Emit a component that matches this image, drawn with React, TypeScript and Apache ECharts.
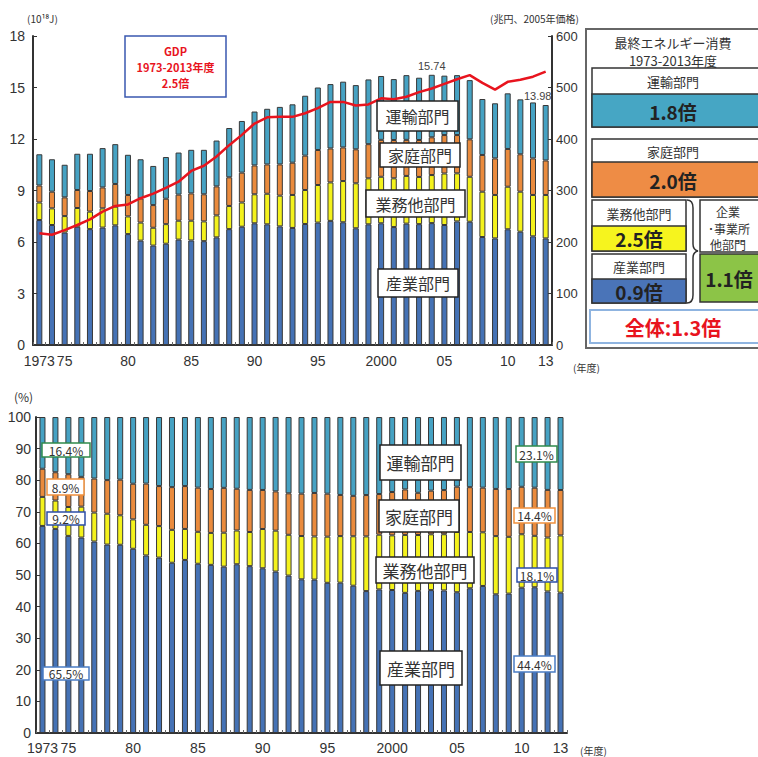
import React, { useEffect, useRef } from 'react';
import * as echarts from 'echarts';

const years = ['1973','1974','1975','1976','1977','1978','1979','1980','1981','1982','1983','1984','1985','1986','1987','1988','1989','1990','1991','1992','1993','1994','1995','1996','1997','1998','1999','2000','2001','2002','2003','2004','2005','2006','2007','2008','2009','2010','2011','2012','2013'];

// 10^18 J
const industry = [7.28,6.99,6.55,6.89,6.75,6.84,6.97,6.46,6.08,5.79,5.90,6.14,6.09,6.05,6.27,6.75,6.89,7.09,7.03,6.91,6.82,7.05,7.13,7.23,7.15,6.80,7.03,7.09,6.87,7.07,7.04,7.10,6.99,7.20,7.18,6.29,6.21,6.74,6.60,6.33,6.21];
const business = [1.02,0.97,0.96,1.09,1.02,1.12,1.09,1.03,1.05,1.04,1.14,1.10,1.15,1.15,1.28,1.35,1.41,1.69,1.78,1.79,1.92,1.98,2.19,2.24,2.40,2.62,2.68,2.71,2.84,2.78,2.75,2.80,3.00,2.80,2.62,2.64,2.53,2.48,2.33,2.41,2.53];
const household = [0.99,0.97,1.09,1.05,1.20,1.22,1.32,1.25,1.41,1.32,1.48,1.52,1.59,1.58,1.69,1.67,1.74,1.68,1.71,1.82,1.88,2.00,2.04,1.98,1.96,1.98,1.99,2.15,2.23,2.10,2.15,2.20,2.24,2.23,2.18,2.14,2.13,2.20,2.18,2.13,2.01];
const transport = [1.82,1.89,1.90,2.11,2.17,2.29,2.32,2.34,2.28,2.28,2.43,2.45,2.54,2.59,2.67,2.87,3.01,3.14,3.24,3.35,3.40,3.49,3.64,3.75,3.83,3.74,3.77,3.72,3.55,3.77,3.63,3.64,3.46,3.49,3.45,3.26,3.21,3.24,3.20,3.26,3.23];
// 兆円 (2005年価格)
const gdp = [217,214,223,233,244,259,270,273,285,294,305,317,338,348,366,388,408,430,442,443,443,450,460,472,472,465,467,479,477,482,491,498,507,516,524,509,496,511,515,521,531];

const xLabelYears = ['1973','1975','1980','1985','1990','1995','2000','2005','2010','2013'];
const fullYearLabels = ['1973','2000'];
const totalLabelYears = ['2004','2013'];

const sectorNames = ['産業部門','業務他部門','家庭部門','運輸部門'];
const sectorColors = ['#4572b5','#f4f21c','#ea8b3d','#46a2c3'];

const FONT = '"Noto Sans CJK JP", "Noto Sans", sans-serif';
const NUMFONT = '"Liberation Sans", Arial, sans-serif';

const rect = (x: number, y: number, w: number, h: number, stroke: string, lw: number, fill = '#ffffff') => ({
  type: 'rect', z: 100, shape: { x, y, width: w, height: h }, style: { fill, stroke, lineWidth: lw }
});
const txt = (x: number, y: number, t: string, size: number, color = '#333333', weight = 'normal', align = 'center') => ({
  type: 'text', z: 101, x, y,
  style: { text: t, fontSize: size, fontWeight: weight, fontFamily: FONT, fill: color, align, verticalAlign: 'middle', textAlign: align, textVerticalAlign: 'middle' }
});

export default function App() {
  const ref = useRef<HTMLDivElement>(null);
  useEffect(() => {
    document.body.style.margin = '0';
    if (!ref.current) return;
    try {
      echarts.graphic.registerShape('brace', echarts.graphic.extendPath('M0,0 Q6,0 6,8 L6,44 Q6,50 11,51 Q6,52 6,58 L6,95 Q6,103 0,103', {}));
    } catch (e) {}
    const chart = echarts.init(ref.current, undefined, { renderer: 'svg' });

    const totals = years.map((_, i) => industry[i] + business[i] + household[i] + transport[i]);
    const raw = [industry, business, household, transport];
    const pct = raw.map(arr => arr.map((v, i) => +(v / totals[i] * 100).toFixed(2)));

    const xLabelFmt = (v: string) => fullYearLabels.includes(v) ? v : v.slice(2);
    const xAxisBase = (gridIndex: number, size: number, margin: number) => ({
      type: 'category', gridIndex, data: years, boundaryGap: true,
      axisLine: { lineStyle: { color: '#333', width: 2 } },
      axisTick: { show: true, inside: true, length: 3, interval: 0, lineStyle: { color: '#666' } },
      axisLabel: {
        interval: (idx: number, v: string) => xLabelYears.includes(v),
        formatter: xLabelFmt, color: '#333', fontSize: size, lineHeight: size, fontFamily: NUMFONT, margin
      }
    });

    const topBars = raw.map((arr, s) => ({
      name: sectorNames[s], type: 'bar', stack: 'top', xAxisIndex: 0, yAxisIndex: 0,
      barWidth: 6,
      itemStyle: { color: sectorColors[s], borderColor: '#383838', borderWidth: 1 },
      data: s === 3 ? arr.map((v, i) => totalLabelYears.includes(years[i]) ? {
        value: v,
        label: {
          show: true, position: 'top', distance: years[i] === '2013' ? 1 : 3,
          offset: years[i] === '2013' ? [-8, -3] : [0, 0],
          formatter: () => totals[i].toFixed(2), color: '#444', fontSize: 11, fontFamily: NUMFONT
        }
      } : v) : arr
    }));

    const bottomBars = pct.map((arr, s) => ({
      name: sectorNames[s] + '%', type: 'bar', stack: 'bottom', xAxisIndex: 1, yAxisIndex: 2,
      barWidth: 6,
      itemStyle: { color: sectorColors[s], borderColor: '#383838', borderWidth: 1 },
      data: arr
    }));

    const graphic: any[] = [
      // units
      txt(27, 18, '(10¹⁸J)', 10, '#333', 'normal', 'left'),
      txt(490, 18, '(兆円、2005年価格)', 10, '#333', 'normal', 'left'),
      txt(573, 367, '(年度)', 10, '#333', 'normal', 'left'),
      txt(14, 396, '(%)', 12, '#333', 'normal', 'left'),
      txt(580, 750, '(年度)', 10, '#333', 'normal', 'left'),
      // GDP box
      rect(125, 36, 101, 61, '#3a58b0', 1.5),
      txt(175.5, 51, 'GDP', 11, '#e8141e', 'bold'),
      txt(175.5, 67, '1973-2013年度', 11, '#e8141e', 'bold'),
      txt(175.5, 83, '2.5倍', 11, '#e8141e', 'bold'),
      // top sector labels
      rect(377, 101, 81, 30, '#222', 1.5), txt(417.5, 116, '運輸部門', 16),
      rect(380, 143, 80, 24, '#222', 1.5), txt(420, 155, '家庭部門', 16),
      rect(366, 190, 99, 27, '#222', 1.5), txt(415.5, 203.5, '業務他部門', 16),
      rect(378, 269, 80, 28, '#222', 1.5), txt(418, 283, '産業部門', 16),
      // right panel
      rect(586, 29, 200, 319, '#666', 2),
      txt(673, 42, '最終エネルギー消費', 13),
      txt(673, 60, '1973-2013年度', 13),
      rect(592, 68, 190, 59, '#333', 1.5),
      rect(592, 94, 190, 33, '#333', 1.5, '#46a6c4'),
      txt(673, 81, '運輸部門', 13), txt(673, 111, '1.8倍', 19, '#222', 'bold'),
      rect(592, 139, 190, 58, '#333', 1.5),
      rect(592, 162, 190, 35, '#333', 1.5, '#ee8c45'),
      txt(673, 151, '家庭部門', 13), txt(673, 180, '2.0倍', 19, '#222', 'bold'),
      rect(592, 200, 94, 51, '#333', 1.5),
      rect(592, 226, 94, 25, '#333', 1.5, '#f6f41e'),
      txt(639, 213, '業務他部門', 13), txt(639, 238, '2.5倍', 19, '#222', 'bold'),
      rect(592, 254, 94, 49, '#333', 1.5),
      rect(592, 279, 94, 24, '#333', 1.5, '#4a74b8'),
      txt(639, 266, '産業部門', 13), txt(639, 291, '0.9倍', 19, '#222', 'bold'),
      { type: 'brace', z: 101, x: 687, y: 200, shape: {}, style: { fill: 'none', stroke: '#333', lineWidth: 1.5 } },
      rect(700, 200, 80, 52, '#333', 1.5),
      txt(728, 211, '企業', 12), txt(729, 228, '･事業所', 12), txt(728, 244, '他部門', 12),
      rect(700, 254, 80, 48, '#333', 1.5, '#8cc447'),
      txt(729, 278, '1.1倍', 19, '#222', 'bold'),
      rect(590, 310, 190, 33, '#8fb4e0', 2),
      txt(673, 327, '全体:1.3倍', 20, '#e8141e', 'bold'),
      // bottom sector labels
      rect(380, 445, 81, 35, '#222', 1.5), txt(420.5, 462.5, '運輸部門', 17),
      rect(379, 500, 80, 32, '#222', 1.5), txt(419, 516, '家庭部門', 17),
      rect(376, 557, 98, 26, '#222', 1.5), txt(425, 570, '業務他部門', 17),
      rect(380, 651, 82, 34, '#222', 1.5), txt(421, 668, '産業部門', 17),
      // bottom percentages
      rect(42, 443, 48, 14, '#2f8a4c', 1.5), txt(66, 450.5, '16.4%', 12),
      rect(47, 479, 37, 16, '#f0903c', 1.5), txt(65.5, 487.5, '8.9%', 12),
      rect(47, 512, 38, 13, '#2d4fa8', 1.5), txt(66, 518.5, '9.2%', 12),
      rect(43, 667, 46, 13, '#4a7cc4', 1.5), txt(66, 673.5, '65.5%', 12),
      rect(516, 446, 41, 16, '#2f8a4c', 1.5), txt(536.5, 454, '23.1%', 12),
      rect(514, 508, 41, 15, '#f0903c', 1.5), txt(534.5, 515.5, '14.4%', 12),
      rect(517, 568, 40, 14, '#2d4fa8', 1.5), txt(537, 575, '18.1%', 12),
      rect(514, 656, 41, 16, '#4a7cc4', 1.5), txt(534.5, 664, '44.4%', 12)
    ];

    chart.setOption({
      animation: false,
      backgroundColor: '#ffffff',
      textStyle: { fontFamily: FONT },
      grid: [
        { left: 33, top: 36, width: 519, height: 309, containLabel: false },
        { left: 36, top: 417, width: 531, height: 316, containLabel: false }
      ],
      xAxis: [xAxisBase(0, 14, 9), xAxisBase(1, 14, 8)],
      yAxis: [
        {
          type: 'value', gridIndex: 0, min: 0, max: 18, interval: 3,
          axisLine: { show: true, lineStyle: { color: '#333', width: 2 } },
          axisTick: { show: true, inside: true, length: 4, lineStyle: { color: '#333' } },
          splitLine: { show: false },
          axisLabel: { color: '#333', fontSize: 14, lineHeight: 14, fontFamily: NUMFONT, margin: 8 }
        },
        {
          type: 'value', gridIndex: 0, min: 0, max: 600, interval: 100, position: 'right',
          axisLine: { show: true, lineStyle: { color: '#333', width: 2 } },
          axisTick: { show: true, inside: true, length: 4, lineStyle: { color: '#333' } },
          splitLine: { show: false },
          axisLabel: { color: '#333', fontSize: 13, lineHeight: 13, fontFamily: NUMFONT, margin: 4 }
        },
        {
          type: 'value', gridIndex: 1, min: 0, max: 100, interval: 10,
          axisLine: { show: true, lineStyle: { color: '#333', width: 2 } },
          axisTick: { show: true, inside: true, length: 4, lineStyle: { color: '#333' } },
          splitLine: { show: false },
          axisLabel: { color: '#333', fontSize: 14, lineHeight: 14, fontFamily: NUMFONT, margin: 5 }
        }
      ],
      series: [
        ...topBars,
        {
          name: 'GDP', type: 'line', xAxisIndex: 0, yAxisIndex: 1, data: gdp,
          showSymbol: false, symbol: 'none', z: 10,
          lineStyle: { color: '#e8141e', width: 2.5, join: 'round' }
        },
        ...bottomBars
      ],
      graphic: { elements: graphic }
    });
    return () => chart.dispose();
  }, []);
  return <div ref={ref} style={{ width: 758, height: 757 }} />;
}
